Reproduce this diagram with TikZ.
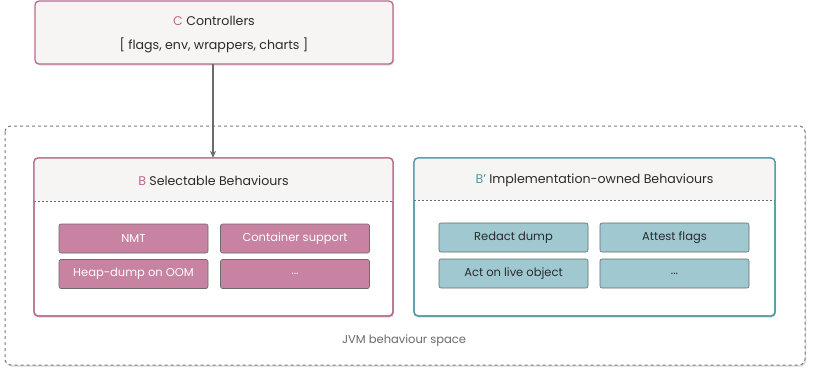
\documentclass[tikz,border=0pt]{standalone}
\usepackage{fontspec}
\setmainfont{Poppins}
\usetikzlibrary{shadows,arrows.meta}
\definecolor{pinkb}{HTML}{B86A8E}
\definecolor{pinkf}{HTML}{C882A2}
\definecolor{tealb}{HTML}{4D98A4}
\definecolor{tealf}{HTML}{9FC8D0}
\definecolor{headf}{HTML}{F7F5F3}
\definecolor{txt}{HTML}{2B2B2B}
\definecolor{edge}{HTML}{6B6B6B}
\begin{document}
\begin{tikzpicture}[x=1pt,y=-1pt,
  shd/.style={drop shadow={shadow xshift=1pt,shadow yshift=-1.5pt,fill=black,opacity=0.15}},
  group/.style={rounded corners=4pt,line width=1.3pt,fill=white,shd},
  item/.style={draw=edge,line width=0.6pt,rounded corners=2pt,minimum width=149pt,minimum height=29pt,inner sep=0pt,font=\fontsize{11.5}{13}\selectfont},
  pitem/.style={item,fill=pinkf,text=white},
  titem/.style={item,fill=tealf,text=txt},
  ttl/.style={font=\fontsize{12.6}{15}\selectfont,text=txt,inner sep=0pt}
]
\useasboundingbox (0,0) rectangle (813,375);
% outer space
\draw[rounded corners=6pt,draw=edge!90,dashed,line width=1pt,fill=white,shd] (5,126) rectangle (805,365);
\node[font=\fontsize{11.5}{13}\selectfont,text=edge,inner sep=0pt] (jvm) at (404,341) {JVM behaviour space};
% controllers
\draw[group,draw=pinkb,fill=headf] (35,1) rectangle (393,64);
\node (ctrl) at (214,32.5) [minimum width=358pt,minimum height=63pt,inner sep=0pt] {};
\node[ttl] (ctitle) at (214,21) {\textcolor{pinkb}{C} Controllers};
\node[ttl] (clist) at (214,45) {[ flags, env, wrappers, charts ]};
% B
\draw[group,draw=pinkb] (34,158) rectangle (393,316);
\begin{scope}
\clip[rounded corners=4pt] (34,158) rectangle (393,316);
\fill[headf] (34,158) rectangle (393,201);
\end{scope}
\draw[dashed,draw=edge,line width=0.5pt,dash pattern=on 2pt off 2pt] (34,201) -- (393,201);
\draw[pinkb,rounded corners=4pt,line width=1.3pt] (34,158) rectangle (393,316);
\node (bbox) at (213.5,237) [minimum width=359pt,minimum height=158pt,inner sep=0pt] {};
\node[ttl] (btitle) at (213.5,181) {\textcolor{pinkb}{B} Selectable Behaviours};
\node[pitem] (nmt) at (133.5,238.5) {NMT};
\node[pitem] (cont) at (295,238.5) {Container support};
\node[pitem] (heap) at (133.5,274) {Heap-dump on OOM};
\node[pitem] (bdots) at (295,274) {...};
% B'
\draw[group,draw=tealb] (414,158) rectangle (775,316);
\begin{scope}
\clip[rounded corners=4pt] (414,158) rectangle (775,316);
\fill[headf] (414,158) rectangle (775,200);
\end{scope}
\draw[dashed,draw=edge,line width=0.5pt,dash pattern=on 2pt off 2pt] (414,200) -- (775,200);
\draw[tealb,rounded corners=4pt,line width=1.3pt] (414,158) rectangle (775,316);
\node[ttl] (bptitle) at (594.5,180.5) {\textcolor{tealb}{B\symbol{39}} Implementation-owned Behaviours};
\node[titem] (red) at (513.5,237.5) {Redact dump};
\node[titem] (att) at (674.5,237.5) {Attest flags};
\node[titem] (act) at (513.5,273.5) {Act on live object};
\node[titem] (tdots) at (674.5,273.5) {...};
% arrow
\draw[-{Stealth[length=7pt,width=6pt]},draw=edge,line width=1.2pt] (ctrl.south -| 213,0) -- (bbox.north -| 213,0);
\end{tikzpicture}
\end{document}
